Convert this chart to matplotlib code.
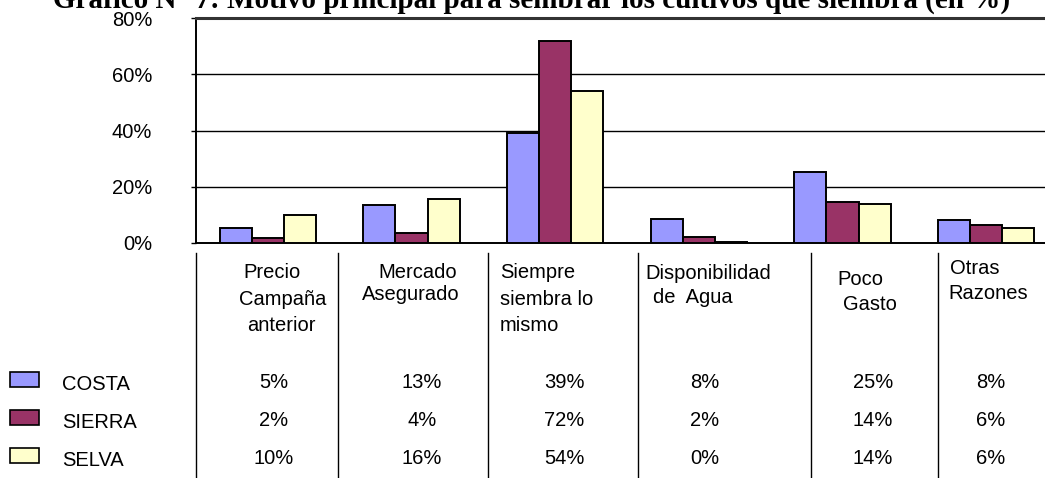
import matplotlib
matplotlib.use("Agg")
import matplotlib.pyplot as plt
from matplotlib.lines import Line2D
from matplotlib.patches import Rectangle
import numpy as np

# =============================================================================
# DATA
# =============================================================================
title = "Gráfico N° 7: Motivo principal para sembrar los cultivos que siembra (en %)"

categories = [
    ["Precio", "Campaña", "anterior"],
    ["Mercado", "Asegurado"],
    ["Siempre", "siembra lo", "mismo"],
    ["Disponibilidad", "de  Agua"],
    ["Poco", "Gasto"],
    ["Otras", "Razones"],
]

series = ["COSTA", "SIERRA", "SELVA"]
costa = [5.3, 13.5, 39.0, 8.5, 25.2, 8.1]
sierra = [1.7, 3.7, 72.0, 2.1, 14.5, 6.3]
selva = [10.0, 15.8, 54.0, 0.5, 14.0, 5.3]

# values printed in the data table
costa_lbl = ["5%", "13%", "39%", "8%", "25%", "8%"]
sierra_lbl = ["2%", "4%", "72%", "2%", "14%", "6%"]
selva_lbl = ["10%", "16%", "54%", "0%", "14%", "6%"]

yticks = [0, 20, 40, 60, 80]

# =============================================================================
# STYLE
# =============================================================================
colors = ["#9999FF", "#993366", "#FFFFCC"]
W, H = 1045, 478
sans = "Liberation Sans"
fs = 14.5


def fx(x):
    return x / W


def fy(y):
    return 1 - y / H


# =============================================================================
# PLOT
# =============================================================================
fig = plt.figure(figsize=(W / 100, H / 100), dpi=100)

# plot area (runs past the right border, as in the original)
ax = fig.add_axes([fx(196), fy(243), (1058 - 196) / W, (243 - 18) / H])

x = np.arange(len(categories))
bw = 0.223
for i, vals in enumerate([costa, sierra, selva]):
    ax.bar(x + (i - 1) * bw, vals, width=bw, color=colors[i],
           edgecolor="black", linewidth=1.4, zorder=3)

ax.set_xlim(-0.5, len(categories) - 0.5)
ax.set_ylim(0, 80)
ax.set_yticks(yticks)
ax.set_yticklabels([f"{v}%" for v in yticks], fontfamily=sans, fontsize=fs)
ax.set_xticks([])
ax.tick_params(axis="y", direction="out", length=3.6, width=1, pad=28)
ax.yaxis.grid(True, color="black", linewidth=1)
ax.set_axisbelow(True)
for s in ["left", "bottom"]:
    ax.spines[s].set_linewidth(1.4)
ax.spines["top"].set_linewidth(2.2)
ax.spines["top"].set_color("#333333")
ax.spines["right"].set_visible(False)

# title, clipped at the top edge
fig.text(fx(53), fy(8), title, family="Liberation Serif", weight="bold",
         fontsize=21, ha="left", va="baseline")

# data table: column separators
col_x = [196, 338, 488, 638, 811, 938]
for cx in col_x:
    fig.add_artist(Line2D([fx(cx), fx(cx)], [fy(253), fy(H + 2)],
                          transform=fig.transFigure, color="black", linewidth=1))

# category labels (line positions)
label_pos = [
    [(272, 278, "center"), (283, 305, "center"), (281, 331, "center")],
    [(418, 278, "center"), (411, 300, "center")],
    [(500, 278, "left"), (500, 305, "left"), (500, 331, "left")],
    [(645, 279, "left"), (653, 303, "left")],
    [(837, 285, "left"), (843, 310, "left")],
    [(950, 274, "left"), (948, 299, "left")],
]
for lines, pos in zip(categories, label_pos):
    for txt, (px, py, ha) in zip(lines, pos):
        fig.text(fx(px), fy(py), txt, family=sans, fontsize=fs,
                 ha=ha, va="baseline")

# value rows + legend keys
row_base = [388, 426, 464]
val_x = [274, 422, 564, 705, 873, 991]
for r, (name, lbls) in enumerate(zip(series, [costa_lbl, sierra_lbl, selva_lbl])):
    by = row_base[r]
    fig.add_artist(Rectangle((fx(10), fy(by - 1)), 29 / W, 15 / H,
                             transform=fig.transFigure, facecolor=colors[r],
                             edgecolor="black", linewidth=1.2))
    fig.text(fx(62), fy(by + 2), name, family=sans, fontsize=fs,
             ha="left", va="baseline")
    for vx, lb in zip(val_x, lbls):
        fig.text(fx(vx), fy(by), lb, family=sans, fontsize=fs,
                 ha="center", va="baseline")

fig.savefig("out.png", dpi=100)
